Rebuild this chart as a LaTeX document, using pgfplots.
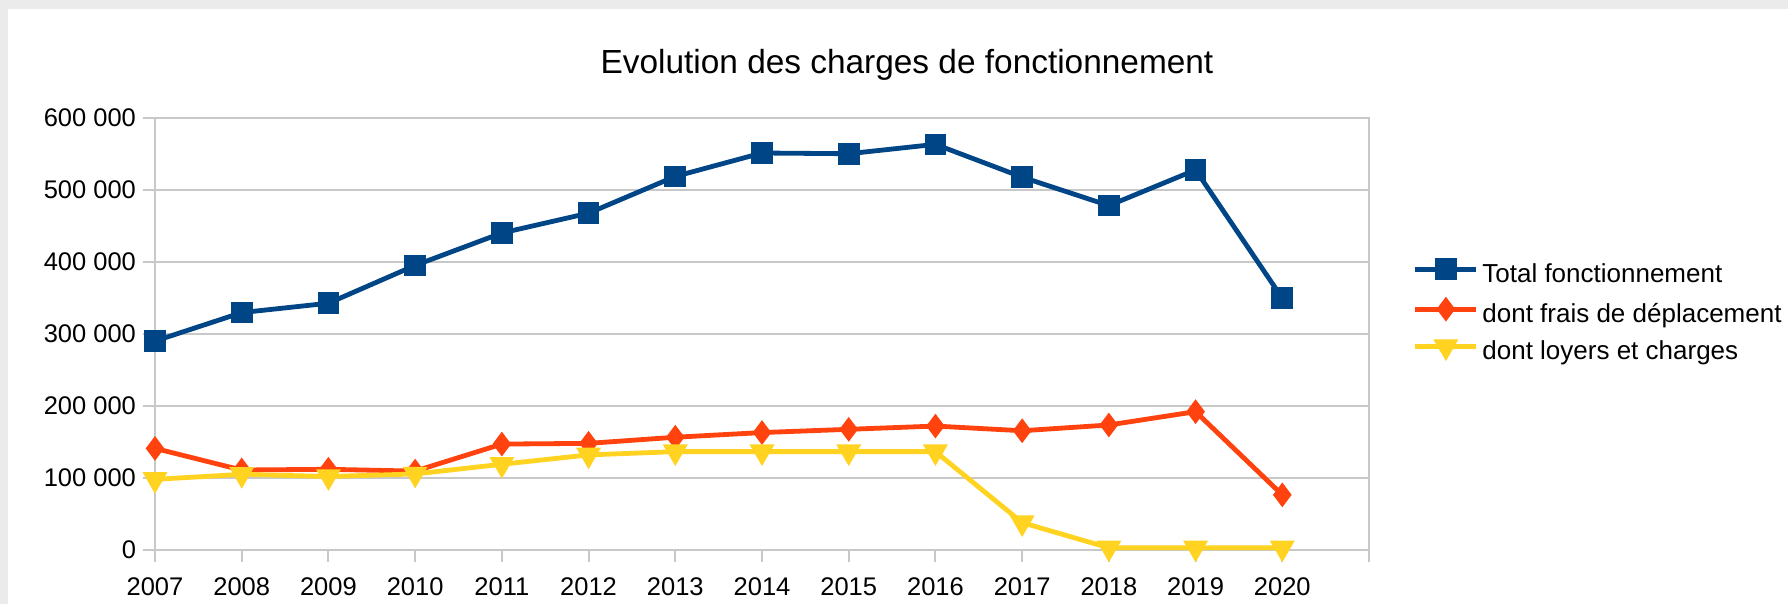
\documentclass[border=0pt]{standalone}
\usepackage{fontspec}
\setmainfont{Liberation Sans}
\usepackage{pgfplots}
\pgfplotsset{compat=1.18}
\definecolor{cBlue}{HTML}{004586}
\definecolor{cOrange}{HTML}{FF420E}
\definecolor{cYellow}{HTML}{FFD320}
\definecolor{cGrid}{HTML}{C8C8C8}
\definecolor{cFrame}{HTML}{EBEBEB}
\begin{document}
\begin{tikzpicture}
\useasboundingbox (0,0) rectangle (894pt,302pt);
\fill[cFrame] (0,0) rectangle (894pt,302pt);
\fill[white] (4pt,0) rectangle (894pt,297.5pt);
\node[font=\fontsize{16.7}{20}\selectfont, anchor=base] at (453.5pt,265.3pt) {Evolution des charges de fonctionnement};
\begin{axis}[
  at={(77.5pt,27pt)}, anchor=south west,
  scale only axis, width=607pt, height=216.15pt,
  xmin=0, xmax=14, ymin=0, ymax=600000,
  scaled y ticks=false,
  xtick={0,...,14},
  xticklabels={2007,2008,2009,2010,2011,2012,2013,2014,2015,2016,2017,2018,2019,2020,},
  ytick={0,100000,200000,300000,400000,500000,600000},
  yticklabels={0,100 000,200 000,300 000,400 000,500 000,600 000},
  tick align=outside, major tick length=6pt,
  tick style={cGrid, line width=1pt},
  axis line style={cGrid, line width=1pt},
  ymajorgrids, grid style={cGrid, line width=1pt},
  xtick pos=bottom, ytick pos=left,
  ticklabel style={font=\fontsize{12.75}{15}\selectfont},
  xticklabel style={yshift=-4.3pt},
  /pgf/number format/assume math mode=true,
  clip=false,
  legend style={at={(1.0359,0.670)}, anchor=north west, draw=none, fill=none,
    inner sep=0pt, row sep=6.25pt,
    font=\fontsize{13}{15}\selectfont,
    nodes={inner xsep=0pt, inner ysep=0pt, text height=9.5pt, text depth=3pt},
    /tikz/every odd column/.append style={column sep=1.8pt}},
  legend cell align=left,
  legend image code/.code={\draw[mark repeat=2,mark phase=2] plot coordinates {(0pt,3.3pt) (15.25pt,3.3pt) (30.5pt,3.3pt)};},
]
\addplot[cBlue, line width=2.4pt, mark=square*, mark size=4.2pt, mark options={solid}] coordinates {
(0,290000) (1,329500) (2,342500) (3,395000) (4,440000) (5,467500) (6,518500) (7,551000) (8,550000) (9,563000) (10,517500) (11,478000) (12,527500) (13,349500)};
\addlegendentry{Total fonctionnement}
\addplot[cOrange, line width=2.4pt, mark=diamond*, mark size=4.2pt, mark options={solid}] coordinates {
(0,141000) (1,111000) (2,112000) (3,109500) (4,147000) (5,148000) (6,156500) (7,163000) (8,167500) (9,172000) (10,165500) (11,173500) (12,192000) (13,76500)};
\addlegendentry{dont frais de déplacement}
\addplot[cYellow, line width=2.4pt, mark=triangle*, mark size=4.8pt, mark options={solid, rotate=180}] coordinates {
(0,98000) (1,105000) (2,102000) (3,105500) (4,119000) (5,132000) (6,136500) (7,136500) (8,136500) (9,136500) (10,38000) (11,3000) (12,3000) (13,3000)};
\addlegendentry{dont loyers et charges}
\end{axis}
\end{tikzpicture}
\end{document}
